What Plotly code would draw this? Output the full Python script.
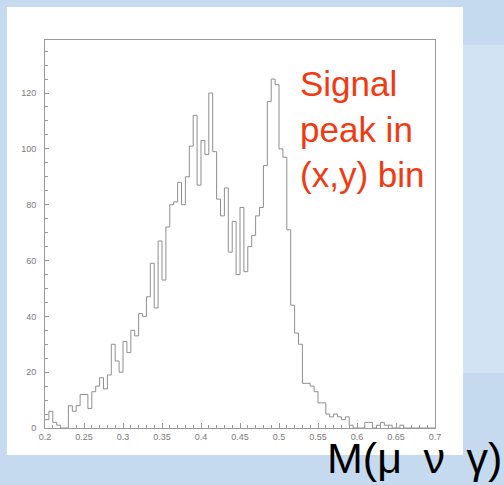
import numpy as np
import plotly.graph_objects as go

# Histogram binning of M(mu nu gamma)
x_low, x_high, n_bins = 0.2, 0.7, 100

# Entries per bin (100 bins, width 0.005)
counts = [
    3, 6, 2, 1, 0, 0, 8, 6, 8, 12,
    12, 7, 13, 15, 18, 14, 19, 30, 24, 20,
    31, 27, 35, 33, 41, 40, 47, 59, 43, 67,
    53, 72, 80, 81, 88, 80, 90, 101, 112, 87,
    103, 98, 120, 99, 82, 76, 86, 63, 74, 55,
    79, 56, 65, 69, 76, 79, 94, 117, 125, 123,
    100, 97, 71, 44, 34, 30, 16, 16, 15, 13,
    9, 9, 5, 4, 5, 4, 3, 4, 1, 0,
    0, 0, 2, 2, 0, 1, 2, 1, 1, 0,
    0, 1, 0, 0, 0, 0, 0, 0, 0, 0,
]

x_tick_vals = [0.2, 0.25, 0.3, 0.35, 0.4, 0.45, 0.5, 0.55, 0.6, 0.65, 0.7]
x_tick_text = ["0.2", "0.25", "0.3", "0.35", "0.4", "0.45", "0.5", "0.55", "0.6", "0.65", "0.7"]
y_tick_vals = [0, 20, 40, 60, 80, 100, 120]
y_tick_text = ["0", "20", "40", "60", "80", "100", "120"]

edges = np.linspace(x_low, x_high, n_bins + 1)
step_y = counts + [counts[-1]]

W, H = 504, 485
ML, MR, MT, MB = 45, 69, 40, 57
PW, PH = W - ML - MR, H - MT - MB


def px(x):
    return (x - ML) / PW


def py(y):
    return (H - MB - y) / PH


fig = go.Figure()
fig.add_trace(go.Scatter(
    x=edges, y=step_y, mode="lines", line_shape="hv",
    line=dict(color="#8f8f8f", width=1), hoverinfo="skip", showlegend=False,
))

axis_font = dict(family="Liberation Sans, Arial, sans-serif", size=9, color="#7a7a7a")

fig.update_xaxes(
    range=[x_low, x_high], showgrid=False, zeroline=False,
    showline=True, linecolor="#9a9a9a", linewidth=1, mirror=True,
    ticks="inside", ticklen=5, tickcolor="#9a9a9a", tickwidth=1,
    tickvals=x_tick_vals, ticktext=x_tick_text, tickfont=axis_font,
    minor=dict(dtick=0.01, tick0=0.2, ticks="inside", ticklen=3, tickcolor="#9a9a9a"),
)
fig.update_yaxes(
    range=[0, 139], showgrid=False, zeroline=False,
    showline=True, linecolor="#9a9a9a", linewidth=1, mirror=True,
    ticks="inside", ticklen=4, tickcolor="#9a9a9a", tickwidth=1,
    tickvals=y_tick_vals, ticktext=y_tick_text, tickfont=axis_font,
    ticklabelstandoff=6,
    minor=dict(dtick=5, tick0=0, ticks="inside", ticklen=3, tickcolor="#9a9a9a"),
)

shapes = [
    # lighter strip at the right of the slide
    dict(type="rect", xref="paper", yref="paper", layer="below",
         x0=px(463), x1=px(506), y0=py(373), y1=py(45),
         fillcolor="#d2e3f4", line=dict(width=0)),
    # white panel behind the histogram
    dict(type="rect", xref="paper", yref="paper", layer="below",
         x0=px(7), x1=px(463), y0=py(455), y1=py(7),
         fillcolor="white", line=dict(width=0)),
]

annotations = [
    dict(text="Signal<br>peak in<br>(x,y) bin", xref="paper", yref="paper",
         x=px(298), y=py(62), xanchor="left", yanchor="top", align="left",
         showarrow=False,
         font=dict(family="Liberation Sans, Arial, sans-serif", size=35, color="#f23a12")),
    dict(text="M(μ\u2002ν\u2002γ)", xref="paper", yref="paper",
         x=px(504), y=py(484), xanchor="right", yanchor="bottom",
         showarrow=False,
         font=dict(family="Liberation Sans, Arial, sans-serif", size=43, color="black")),
]

fig.update_layout(
    width=W, height=H,
    margin=dict(l=ML, r=MR, t=MT, b=MB),
    paper_bgcolor="#c6daef",
    plot_bgcolor="white",
    shapes=shapes,
    annotations=annotations,
)

fig.write_html("out.html", config={"displayModeBar": False})
